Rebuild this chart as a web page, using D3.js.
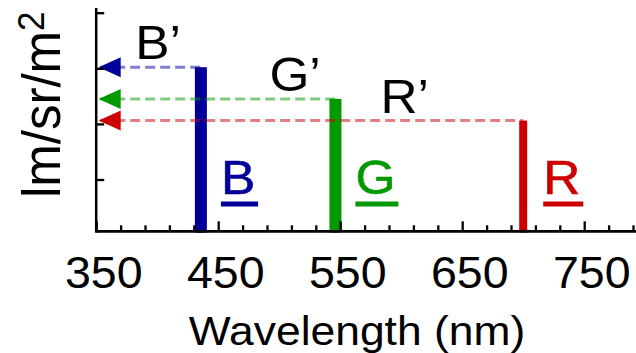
<!DOCTYPE html>
<html lang="en">
<head>
  <meta charset="UTF-8">
  <title>RGB primaries</title>
  <style>
    body { margin: 0; background: #fff; }
    #chart { display: block; }
    text { font-family: "Liberation Sans", Arial, sans-serif; fill: #000; }
  </style>
</head>
<body>
  <svg id="chart"></svg>

  <script src="https://d3js.org/d3.v7.min.js"></script>
  <script>
    // Data
    const wavelengths = [435.8, 546.1, 700];     // nm
    const radiance = [3.02, 2.45, 2.06];         // arbitrary units
    const primaryNames = ["B", "G", "R"];
    const primeNames = ["B\u2019", "G\u2019", "R\u2019"];
    const primeLabelAt = [382, 492, 583];        // nm, where each primed label starts
    const xTickLabels = [350, 450, 550, 650, 750];
    const xMinorTicks = d3.range(370, 800, 20).filter(v => !xTickLabels.includes(v));
    const yTickValues = [1, 2, 3, 4];

    // Styles
    const colors = ["#000099", "#009900", "#cc0000"];
    const barPx = [12, 12, 8];
    const sx = 1.07; // the original figure is slightly stretched sideways

    const width = 636;
    const height = 353;
    const baseY = 231.3;   // x axis line
    const topY = 8;        // top of y axis

    const svg = d3.select("#chart")
      .attr("width", width)
      .attr("height", height);

    const xScale = d3.scaleLinear()
      .domain([350, 800])
      .range([96.2, 645.2]);

    const yScale = d3.scaleLinear()
      .domain([0, 4])
      .range([235.1, 12.7]);

    // Bars
    svg.append("g").selectAll("rect")
      .data(wavelengths)
      .join("rect")
      .attr("x", (d, i) => xScale(d) - barPx[i] / 2)
      .attr("width", (d, i) => barPx[i])
      .attr("y", (d, i) => yScale(radiance[i]))
      .attr("height", (d, i) => baseY + 1.4 - yScale(radiance[i]))
      .attr("fill", (d, i) => colors[i]);

    // Dashed lines back to the y axis
    svg.append("g").selectAll("line")
      .data(wavelengths)
      .join("line")
      .attr("x1", xScale(350) + 4)
      .attr("x2", d => xScale(d))
      .attr("y1", (d, i) => yScale(radiance[i]))
      .attr("y2", (d, i) => yScale(radiance[i]))
      .attr("stroke", (d, i) => colors[i])
      .attr("stroke-opacity", 0.5)
      .attr("stroke-width", 3)
      .attr("stroke-dasharray", "10,5");

    // Arrow heads
    svg.append("g").selectAll("path")
      .data(radiance)
      .join("path")
      .attr("d", d => {
        const y = yScale(d), x0 = xScale(350) + 2.5;
        return `M${x0},${y}L${x0 + 22},${y - 10}L${x0 + 22},${y + 10}Z`;
      })
      .attr("fill", (d, i) => colors[i]);

    // Axes
    svg.append("g")
      .attr("transform", `translate(0,${baseY})`)
      .call(d3.axisBottom(xScale).tickValues(xMinorTicks).tickSize(-6).tickSizeOuter(0).tickFormat(""))
      .call(g => g.select(".domain").remove())
      .call(g => g.selectAll("line").attr("stroke-width", 2.3));

    const xMajor = svg.append("g")
      .attr("transform", `translate(0,${baseY})`)
      .call(d3.axisBottom(xScale).tickValues(xTickLabels).tickSize(-10).tickSizeOuter(0))
      .call(g => g.select(".domain").remove())
      .call(g => g.selectAll("line").attr("stroke-width", 2.3));

    xMajor.selectAll("text")
      .attr("y", 56.7)
      .attr("dy", 0)
      .attr("font-size", 43.5)
      .attr("font-family", null)
      .attr("fill", "#000")
      .attr("transform", `translate(7,0) scale(${sx},1)`);

    svg.append("g")
      .attr("transform", `translate(${xScale(350)},0)`)
      .call(d3.axisLeft(yScale).tickValues(yTickValues).tickSize(-8).tickSizeOuter(0).tickFormat(""))
      .call(g => g.select(".domain").remove())
      .call(g => g.selectAll("line").attr("stroke-width", 2.3));

    svg.append("line")
      .attr("x1", xScale(350)).attr("x2", width)
      .attr("y1", baseY).attr("y2", baseY)
      .attr("stroke", "#000").attr("stroke-width", 2.7);

    svg.append("line")
      .attr("x1", xScale(350)).attr("x2", xScale(350))
      .attr("y1", topY).attr("y2", baseY + 1.4)
      .attr("stroke", "#000").attr("stroke-width", 2.5);

    // Axis titles
    svg.append("text")
      .attr("transform", `translate(357,345) scale(${sx},1)`)
      .attr("text-anchor", "middle")
      .attr("font-size", 41.5)
      .text("Wavelength (nm)");

    const yTitle = svg.append("text")
      .attr("transform", `translate(60,198) scale(${sx},1) rotate(-90)`)
      .attr("font-size", 51)
      .text("lm/sr/m");
    yTitle.append("tspan")
      .attr("font-size", 35)
      .attr("dy", -15)
      .text("2");

    // Primed labels above the dashed lines
    svg.append("g").selectAll("text")
      .data(primeNames)
      .join("text")
      .attr("transform", (d, i) =>
        `translate(${xScale(primeLabelAt[i])},${yScale(radiance[i]) - 8}) scale(${sx},1)`)
      .attr("font-size", 48)
      .text(d => d);

    // Coloured, underlined names next to the bars
    const names = svg.append("g").selectAll("g")
      .data(primaryNames)
      .join("g")
      .attr("transform", (d, i) => `translate(${xScale(wavelengths[i]) + 20},194)`);

    names.append("text")
      .attr("transform", `scale(${sx},1)`)
      .attr("font-size", 48)
      .style("fill", (d, i) => colors[i])
      .attr("stroke", (d, i) => colors[i])
      .attr("stroke-width", 0.6)
      .text(d => d);

    names.each(function () {
      const g = d3.select(this);
      const len = g.select("text").node().getComputedTextLength() * sx;
      g.append("rect")
        .attr("x", 0)
        .attr("y", 7.5)
        .attr("width", len + 3)
        .attr("height", 5)
        .attr("fill", g.select("text").style("fill"));
    });
  </script>
</body>
</html>
